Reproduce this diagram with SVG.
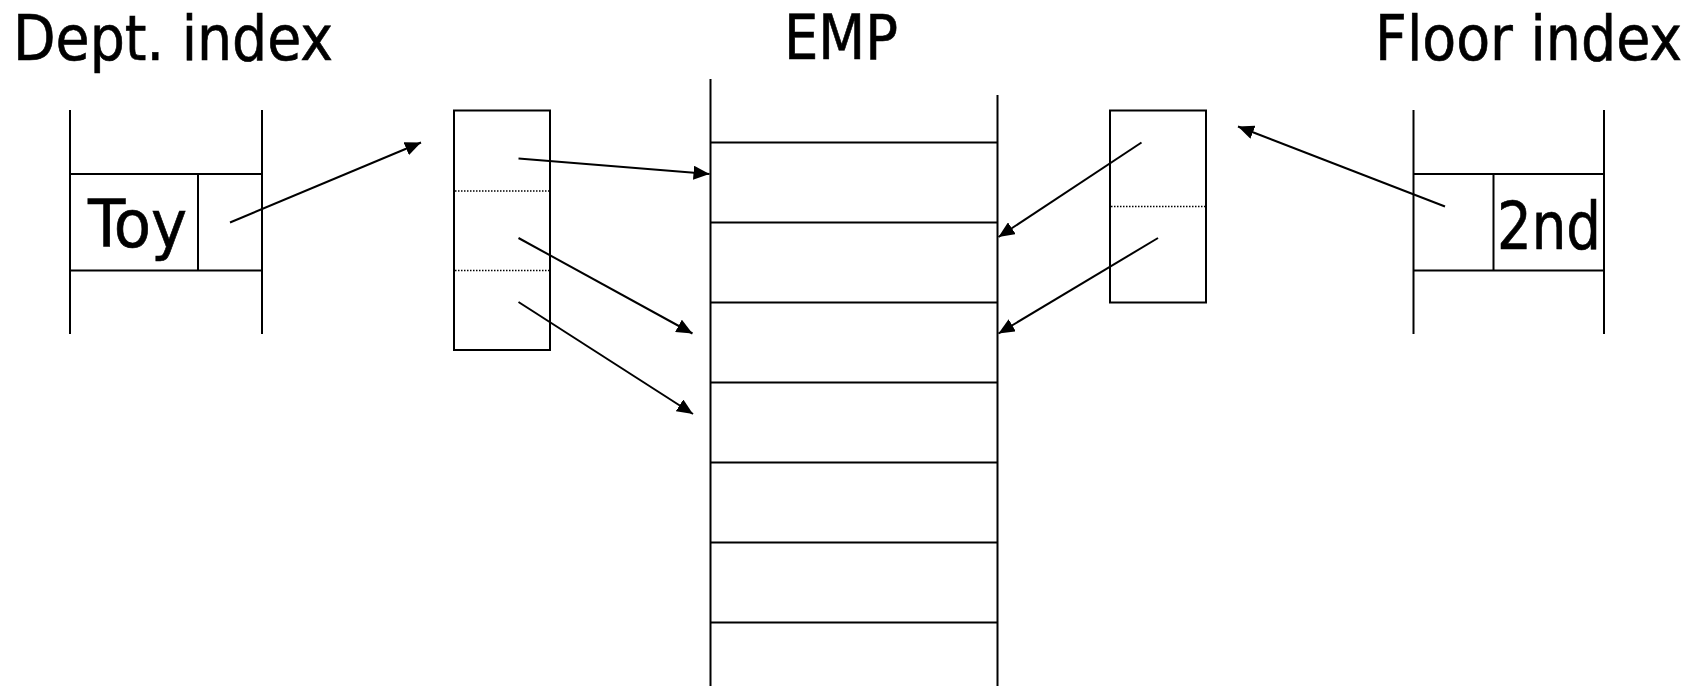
<svg xmlns="http://www.w3.org/2000/svg" width="1703" height="686" viewBox="0 0 1703 686">
<style>
.ln{stroke:#000;stroke-width:2;fill:none}
.dot{stroke:#000;stroke-width:1.5;stroke-dasharray:1.5 1.5;fill:none}
.box{stroke:#000;stroke-width:2;fill:#fff}
.ttl{font-family:"DejaVu Sans Condensed","DejaVu Sans",sans-serif;font-size:63px;fill:#000;stroke:#000;stroke-width:0.6}
.lbl{font-family:"DejaVu Sans Condensed","DejaVu Sans",sans-serif;font-size:65px;fill:#000;stroke:#000;stroke-width:0.6}
.arr{stroke:#000;stroke-width:2;fill:none;marker-end:url(#ah)}
</style>
<defs>
<marker id="ah" viewBox="0 0 16 14" refX="16" refY="7" markerWidth="16" markerHeight="14" markerUnits="userSpaceOnUse" orient="auto">
<path d="M0,0 L16,7 L0,14 z" fill="#000"/>
</marker>
</defs>
<rect width="1703" height="686" fill="#fff"/>
<g id="title-dept"><text class="ttl" x="13" y="60" textLength="320" lengthAdjust="spacingAndGlyphs">Dept. index</text></g>
<g id="title-emp"><text class="ttl" x="784" y="59" textLength="114" lengthAdjust="spacingAndGlyphs">EMP</text></g>
<g id="title-floor"><text class="ttl" x="1375" y="60" textLength="307" lengthAdjust="spacingAndGlyphs">Floor index</text></g>

<g id="dept-index">
<line class="ln" x1="70" y1="110" x2="70" y2="334"/>
<line class="ln" x1="262" y1="110" x2="262" y2="334"/>
<line class="ln" x1="70" y1="174" x2="262" y2="174"/>
<line class="ln" x1="70" y1="270.5" x2="262" y2="270.5"/>
<line class="ln" x1="198" y1="174" x2="198" y2="270.5"/>
<text class="lbl" x="88" y="247" textLength="99" lengthAdjust="spacingAndGlyphs">Toy</text>
</g>

<g id="dept-buckets">
<rect class="box" x="454" y="110.5" width="96" height="239.5"/>
<line class="dot" x1="455" y1="191" x2="549" y2="191"/>
<line class="dot" x1="455" y1="270.5" x2="549" y2="270.5"/>
</g>

<g id="emp">
<line class="ln" x1="710.5" y1="79" x2="710.5" y2="686"/>
<line class="ln" x1="997.5" y1="95" x2="997.5" y2="686"/>
<line class="ln" x1="710.5" y1="142.5" x2="997.5" y2="142.5"/>
<line class="ln" x1="710.5" y1="222.5" x2="997.5" y2="222.5"/>
<line class="ln" x1="710.5" y1="302.5" x2="997.5" y2="302.5"/>
<line class="ln" x1="710.5" y1="382.5" x2="997.5" y2="382.5"/>
<line class="ln" x1="710.5" y1="462.5" x2="997.5" y2="462.5"/>
<line class="ln" x1="710.5" y1="542.5" x2="997.5" y2="542.5"/>
<line class="ln" x1="710.5" y1="622.5" x2="997.5" y2="622.5"/>
</g>

<g id="floor-buckets">
<rect class="box" x="1110" y="110.5" width="96" height="192"/>
<line class="dot" x1="1111" y1="206.5" x2="1205" y2="206.5"/>
</g>

<g id="floor-index">
<line class="ln" x1="1413.5" y1="110" x2="1413.5" y2="334"/>
<line class="ln" x1="1604" y1="110" x2="1604" y2="334"/>
<line class="ln" x1="1413.5" y1="174" x2="1604" y2="174"/>
<line class="ln" x1="1413.5" y1="270.5" x2="1604" y2="270.5"/>
<line class="ln" x1="1493.5" y1="174" x2="1493.5" y2="270.5"/>
<text class="lbl" x="1497" y="249" textLength="104" lengthAdjust="spacingAndGlyphs">2nd</text>
</g>

<g id="connectors">
<line class="arr" x1="230" y1="222.5" x2="421" y2="142.5"/>
<line class="arr" x1="518.5" y1="158.5" x2="709.5" y2="174"/>
<line class="arr" x1="518.5" y1="238" x2="692.5" y2="333.5"/>
<line class="arr" x1="518.5" y1="302" x2="693" y2="414"/>
<line class="arr" x1="1141.5" y1="142.5" x2="998.5" y2="237"/>
<line class="arr" x1="1158" y1="238" x2="998.5" y2="333.5"/>
<line class="arr" x1="1445" y1="206.5" x2="1238" y2="126.5"/>
</g>
</svg>
